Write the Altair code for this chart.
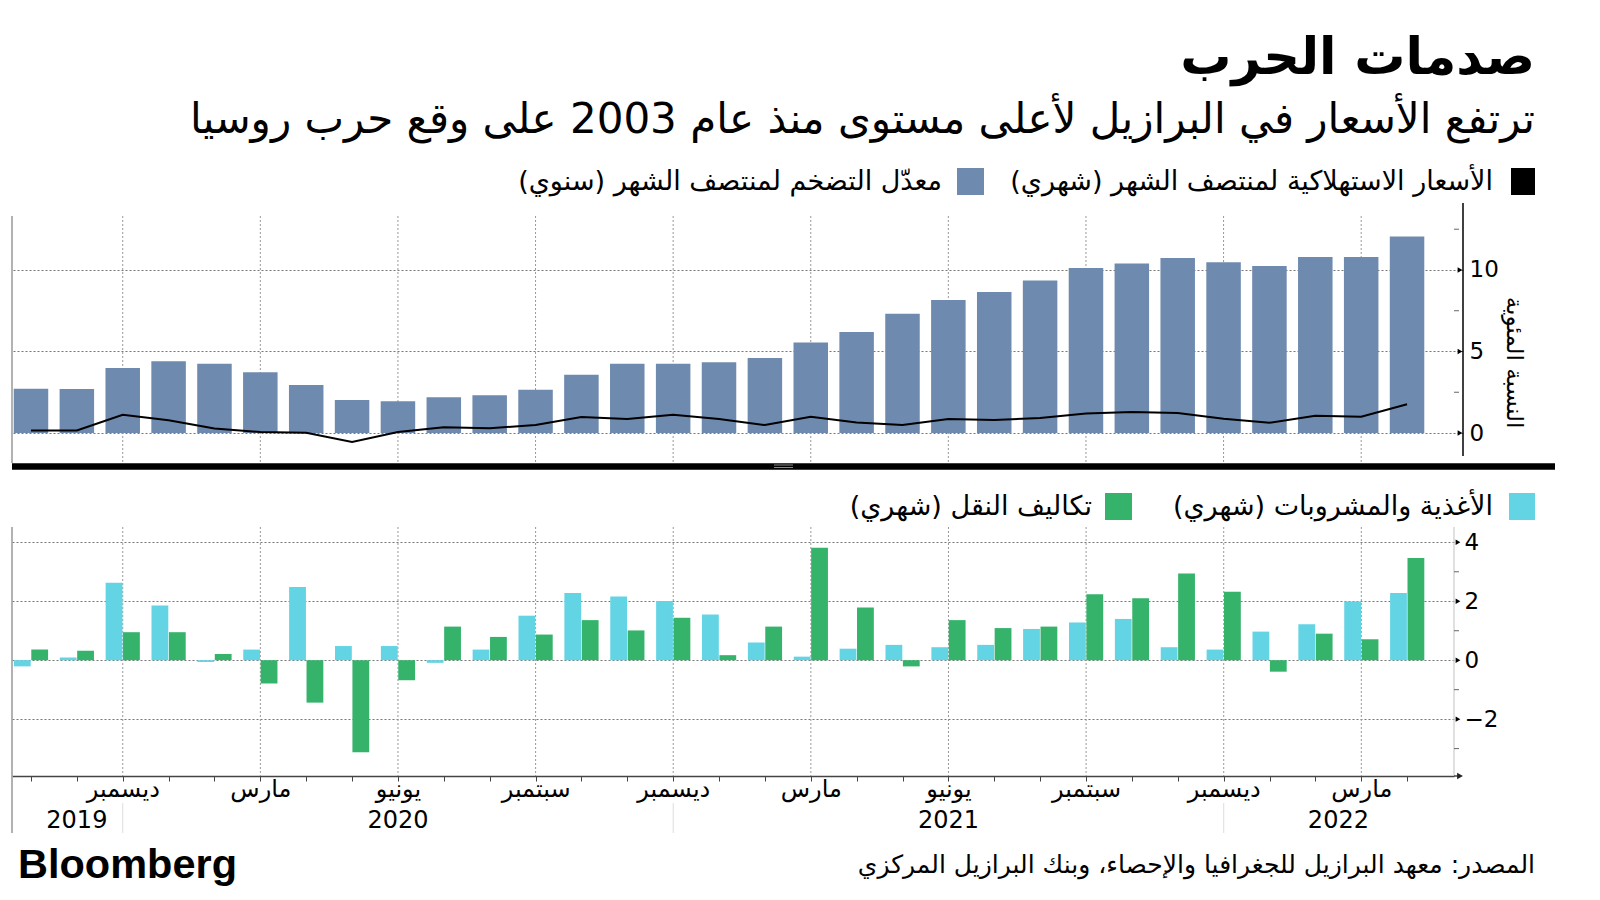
import json
import altair as alt
import pandas as pd

# ---------------- data ----------------
months = ["2019-10", "2019-11", "2019-12", "2020-01", "2020-02", "2020-03", "2020-04",
          "2020-05", "2020-06", "2020-07", "2020-08", "2020-09", "2020-10", "2020-11",
          "2020-12", "2021-01", "2021-02", "2021-03", "2021-04", "2021-05", "2021-06",
          "2021-07", "2021-08", "2021-09", "2021-10", "2021-11", "2021-12", "2022-01",
          "2022-02", "2022-03", "2022-04"]
annual = [2.72, 2.70, 3.98, 4.40, 4.25, 3.72, 2.94, 2.02, 1.94, 2.19, 2.31, 2.66, 3.58,
          4.25, 4.25, 4.34, 4.60, 5.55, 6.20, 7.32, 8.16, 8.65, 9.35, 10.12, 10.39, 10.74,
          10.47, 10.25, 10.80, 10.80, 12.05]
monthly = [0.15, 0.15, 1.12, 0.78, 0.27, 0.06, 0.02, -0.55, 0.06, 0.35, 0.29, 0.49, 0.98,
           0.86, 1.12, 0.86, 0.49, 1.00, 0.65, 0.49, 0.86, 0.80, 0.92, 1.20, 1.29, 1.23,
           0.88, 0.63, 1.06, 1.00, 1.76]
food = [-0.21, 0.09, 2.63, 1.86, -0.06, 0.36, 2.48, 0.48, 0.48, -0.09, 0.36, 1.51, 2.28,
        2.16, 2.01, 1.55, 0.60, 0.12, 0.39, 0.52, 0.44, 0.52, 1.06, 1.28, 1.40, 0.44,
        0.36, 0.97, 1.22, 1.99, 2.28]
transport = [0.36, 0.32, 0.95, 0.95, 0.21, -0.79, -1.44, -3.12, -0.68, 1.14, 0.79, 0.87,
             1.36, 1.01, 1.44, 0.17, 1.14, 3.82, 1.79, -0.21, 1.36, 1.09, 1.14, 2.24, 2.10,
             2.94, 2.32, -0.39, 0.90, 0.71, 3.47]
month_names = {"12": "ديسمبر", "03": "مارس", "06": "يونيو", "09": "سبتمبر"}
year_labels = ["2019", "2020", "2021", "2022"]
year_anchor = [1, 8, 20, 28.5]          # month index the year label sits under
top_ticks = [0, 5, 10]
top_minor = [2.5, 7.5, 12.5]
bot_ticks = [-2, 0, 2, 4]
bot_minor = [-3, -1, 1, 3]

TITLE = "صدمات الحرب"
SUBTITLE = "ترتفع الأسعار في البرازيل لأعلى مستوى منذ عام 2003 على وقع حرب روسيا"
LEG1 = "\u200fالأسعار الاستهلاكية لمنتصف الشهر (شهري)\u200f"
LEG2 = "\u200fمعدّل التضخم لمنتصف الشهر (سنوي)\u200f"
LEG3 = "\u200fالأغذية والمشروبات (شهري)\u200f"
LEG4 = "\u200fتكاليف النقل (شهري)\u200f"
YTITLE = "النسبة المئوية"
SOURCE = "المصدر: معهد البرازيل للجغرافيا والإحصاء، وبنك البرازيل المركزي"

df = pd.DataFrame({"month": months, "idx": list(range(len(months))), "annual": annual,
                   "monthly": monthly, "food": food, "transport": transport})
tick_names = [month_names.get(m[5:], "") for m in months]
df["tick"] = tick_names
years_df = pd.DataFrame({"year": year_labels, "pos": year_anchor})
one = pd.DataFrame({"k": [0]})

AR = "DejaVu Sans"
BLUE = "#6e8aae"
CYAN = "#62d4e4"
GREEN = "#35b36b"

W1, H1 = 1451, 247
W2, H2 = 1442, 249
xs1 = alt.Scale(domain=[-0.414, 31.22], nice=False, zero=False, padding=0)
xs2 = alt.Scale(domain=[-0.414, 31.02], nice=False, zero=False, padding=0)
ys1 = alt.Scale(domain=[-1.84, 13.31], nice=False)
ys2 = alt.Scale(domain=[-3.93, 4.52], nice=False)


def txt(s, x, y, size, weight="normal", align="right", font=AR, color="#000"):
    return alt.Chart(one).mark_text(text=s, fontSize=size, fontWeight=weight, align=align,
                                    baseline="middle", font=font, color=color).encode(
        x=alt.value(x), y=alt.value(y))


def rect(x, x2, y, y2, color):
    return alt.Chart(one).mark_rect(color=color).encode(
        x=alt.value(x), x2=alt.value(x2), y=alt.value(y), y2=alt.value(y2))


def hrule(x, x2, y, color, w):
    return alt.Chart(one).mark_rule(color=color, strokeWidth=w).encode(
        x=alt.value(x), x2=alt.value(x2), y=alt.value(y))


def vrule(x, y, y2, color, w):
    return alt.Chart(one).mark_rule(color=color, strokeWidth=w).encode(
        x=alt.value(x), y=alt.value(y), y2=alt.value(y2))


# ---------------- top panel ----------------
yaxis1 = alt.Axis(orient="right", values=top_ticks, grid=True, gridDash=[2, 2],
                  gridColor="#777", gridWidth=1, ticks=False, domain=False,
                  labelPadding=6, labelFontSize=23, labelFont=AR, labelColor="#000",
                  title=YTITLE, titleFont=AR, titleFontSize=23, titleFontWeight="normal",
                  titleColor="#000", titleAngle=90, titleX=50, titleY=146,
                  titleAlign="center", titleBaseline="middle")

vgrid1 = alt.Chart(df).transform_filter("datum.tick != ''").mark_rule(
    color="#999", strokeDash=[2, 2], strokeWidth=1).encode(
    x=alt.X("idx:Q", scale=xs1, axis=None), y=alt.value(0), y2=alt.value(H1))

bars1 = alt.Chart(df).mark_bar(width=34.5, color=BLUE).encode(
    x=alt.X("idx:Q", scale=xs1, axis=None),
    y=alt.Y("annual:Q", scale=ys1, axis=yaxis1),
    y2=alt.datum(0))

line1 = alt.Chart(df).mark_line(color="#000", strokeWidth=2).encode(
    x=alt.X("idx:Q", scale=xs1, axis=None),
    y=alt.Y("monthly:Q", scale=ys1, axis=yaxis1))

tri1 = alt.Chart(pd.DataFrame({"v": top_ticks})).mark_point(
    shape="triangle-right", filled=True, color="#000", size=30, opacity=1).encode(
    x=alt.value(W1 - 3), y=alt.Y("v:Q", scale=ys1, axis=yaxis1))
minor1 = alt.Chart(pd.DataFrame({"v": top_minor})).mark_rule(color="#666", strokeWidth=1).encode(
    x=alt.value(W1 - 9), x2=alt.value(W1 - 4), y=alt.Y("v:Q", scale=ys1, axis=yaxis1))

top = alt.layer(
    vrule(-3, -207.5, -207.5, "#ffffff", 1) + hrule(-3, 0, -207.5, "#ffffff", 1),
    vgrid1, bars1, line1,
    vrule(0, 0, H1, "#999", 1.5),
    vrule(W1, -13, 240, "#000", 1.5),
    tri1, minor1,
    hrule(0, 1543, H1 + 3.5, "#000", 6.5),
    hrule(762, 781, H1 + 2, "#888", 1),
    hrule(762, 781, H1 + 4.5, "#888", 1),
    txt(TITLE, 1523, -157, 51, weight="bold"),
    txt(SUBTITLE, 1523, -96, 42),
    rect(1499, 1523, -48, -21, "#000"),
    txt(LEG1, 1481, -34.5, 27),
    rect(945, 972, -48, -21, BLUE),
    txt(LEG2, 930, -34.5, 27),
).properties(width=W1, height=H1)

# ---------------- bottom panel ----------------
yaxis2 = alt.Axis(orient="right", values=bot_ticks, grid=True, gridDash=[2, 2],
                  gridColor="#777", gridWidth=1, ticks=False, domain=False,
                  labelPadding=10, labelFontSize=23, labelFont=AR, labelColor="#000",
                  title=None)
xaxis2 = alt.Axis(orient="bottom", values=list(range(len(months))), grid=False,
                  ticks=True, tickSize=5, tickColor="#444", tickWidth=1,
                  domain=True, domainColor="#444", domainWidth=1.5,
                  labelExpr=json.dumps(tick_names, ensure_ascii=False) + "[datum.value]",
                  labelFont=AR, labelFontSize=24, labelColor="#000", labelPadding=-4,
                  labelOverlap=False, labelFlush=False, title=None)

vgrid2 = alt.Chart(df).transform_filter("datum.tick != ''").mark_rule(
    color="#999", strokeDash=[2, 2], strokeWidth=1).encode(
    x=alt.X("idx:Q", scale=xs2, axis=xaxis2), y=alt.value(0), y2=alt.value(H2))
yearsep = alt.Chart(df).transform_filter("datum.tick == '" + month_names["12"] + "'").mark_rule(
    color="#ddd", strokeWidth=1).encode(
    x=alt.X("idx:Q", scale=xs2, axis=xaxis2), y=alt.value(H2 + 27), y2=alt.value(H2 + 57))

bars_food = alt.Chart(df).mark_bar(width=16.8, xOffset=-8.7, color=CYAN).encode(
    x=alt.X("idx:Q", scale=xs2, axis=xaxis2),
    y=alt.Y("food:Q", scale=ys2, axis=yaxis2), y2=alt.datum(0))
bars_tr = alt.Chart(df).mark_bar(width=16.8, xOffset=8.7, color=GREEN).encode(
    x=alt.X("idx:Q", scale=xs2, axis=xaxis2),
    y=alt.Y("transport:Q", scale=ys2, axis=yaxis2), y2=alt.datum(0))

tri2 = alt.Chart(pd.DataFrame({"v": bot_ticks})).mark_point(
    shape="triangle-right", filled=True, color="#000", size=30, opacity=1).encode(
    x=alt.value(W2 + 4), y=alt.Y("v:Q", scale=ys2, axis=yaxis2))
minor2 = alt.Chart(pd.DataFrame({"v": bot_minor})).mark_rule(color="#666", strokeWidth=1).encode(
    x=alt.value(W2), x2=alt.value(W2 + 5), y=alt.Y("v:Q", scale=ys2, axis=yaxis2))

years = alt.Chart(years_df).mark_text(font=AR, fontSize=24, color="#000", baseline="middle").encode(
    x=alt.X("pos:Q", scale=xs2, axis=xaxis2), y=alt.value(H2 + 45), text="year:N")

arrow = alt.Chart(one).mark_point(shape="triangle-right", filled=True, color="#222",
                                  size=45, opacity=1).encode(x=alt.value(W2 + 6), y=alt.value(H2))

bottom = alt.layer(
    vgrid2, yearsep, bars_food, bars_tr,
    vrule(0, 0, H2 + 57, "#999", 1.5),
    vrule(W2, 0, H2, "#ccc", 1.2),
    tri2, minor2, years,
    hrule(W2, W2 + 5, H2, "#444", 1.5), arrow,
    rect(1497, 1523, -34, -7, CYAN),
    txt(LEG3, 1481, -20.5, 27),
    rect(1093, 1120, -34, -7, GREEN),
    txt(LEG4, 1080, -20.5, 27),
    txt("Bloomberg", 6, 339, 41.5, weight="bold", align="left", font="Liberation Sans"),
    txt(SOURCE, 1523, 338, 25),
).properties(width=W2, height=H2)

chart = alt.vconcat(top, bottom, spacing=64, bounds="flush").properties(
    padding=0, background="#ffffff").configure_view(stroke=None)

chart.save("out.html", embed_options={"renderer": "svg", "actions": False})
